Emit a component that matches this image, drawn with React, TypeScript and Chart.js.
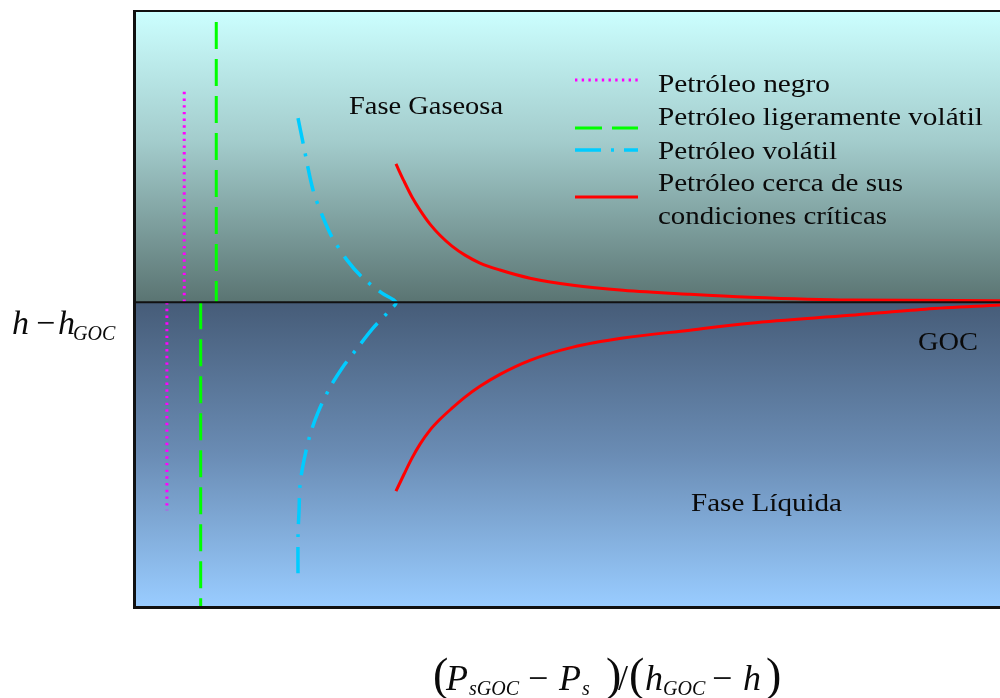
import React, { useEffect, useRef } from "react";
import { Chart, registerables } from "chart.js";

Chart.register(...registerables);

// Horizontal: (P_sGOC - P_s)/(h_GOC - h), 0..100 ; vertical: h - h_GOC, GOC at 0
const xMin = 0;
const xMax = 100;
const yMin = -104;
const yMax = 100;

const gocX = [0, 100];
const gocY = [0, 0];

const negroGasX = [5.8, 5.8];
const negroGasY = [72, 0];
const negroLiqX = [3.8, 3.8];
const negroLiqY = [0, -71.2];

const ligeroGasX = [9.5, 9.5];
const ligeroGasY = [95.9, 0];
const ligeroLiqX = [7.7, 7.7];
const ligeroLiqY = [0, -104];

const volatilX = [18.94, 19.52, 20.67, 21.82, 22.86, 24.6, 26.33, 28.64, 30.25, 29.56, 27.6, 25.87, 24.02, 22.52, 21.25, 20.32, 19.52, 19.17, 19.05, 18.94, 18.94];
const volatilY = [63.0, 54.5, 38.4, 29.1, 22.3, 14.4, 8.6, 3.1, 0, -2.7, -8.9, -15.4, -22.6, -29.8, -37.7, -45.5, -55.8, -62.7, -71.9, -79.8, -96.2];

const criticoGasX = [30.25, 31.18, 32.1, 33.03, 34.18, 35.33, 36.72, 38.22, 39.95, 42.26, 45.73, 50.69, 56.47, 64.2, 71.13, 82.68, 100];
const criticoGasY = [47.3, 41.4, 36.0, 31.5, 26.7, 22.9, 19.2, 16.1, 13.4, 11.0, 8.2, 5.8, 4.1, 2.7, 1.7, 0.7, 0.5];
const criticoLiqX = [30.25, 31.18, 32.1, 33.03, 34.18, 35.33, 36.72, 38.22, 39.95, 42.26, 45.73, 50.69, 56.47, 64.2, 71.13, 82.68, 91.34, 100];
const criticoLiqY = [-64.7, -58.9, -53.4, -48.6, -43.8, -40.1, -36.3, -32.5, -28.8, -24.7, -19.9, -15.4, -12.3, -9.6, -7.2, -4.5, -2.4, -1.0];

const legendLabels: string[][] = [
  ["Petróleo negro"],
  ["Petróleo ligeramente volátil"],
  ["Petróleo volátil"],
  ["Petróleo cerca de sus", "condiciones críticas"],
];

const regionLabels = ["Fase Gaseosa", "Fase Líquida", "GOC"];

const zip = (xs: number[], ys: number[]) => xs.map((x, i) => ({ x, y: ys[i] }));

const MAGENTA = "#ff00ff";
const GREEN = "#00ff00";
const CYAN = "#00ccff";
const RED = "#ff0000";

const styles = [
  { color: MAGENTA, width: 3, dash: [2.4, 4.3] },
  { color: GREEN, width: 3, dash: [27, 10] },
  { color: CYAN, width: 3.5, dash: [26, 10, 3, 10] },
  { color: RED, width: 3, dash: [] as number[] },
];

const SERIF = "'Liberation Serif', 'Times New Roman', serif";

function txt(ctx: CanvasRenderingContext2D, s: string, x: number, y: number, font: string, w?: number) {
  ctx.font = font;
  if (w) {
    const m = ctx.measureText(s).width;
    ctx.save();
    ctx.translate(x, y);
    ctx.scale(w / m, 1);
    ctx.fillText(s, 0, 0);
    ctx.restore();
  } else {
    ctx.fillText(s, x, y);
  }
}

const bgPlugin = {
  id: "bgPlugin",
  beforeDatasetsDraw(chart: any) {
    const { ctx, chartArea, scales } = chart;
    const { left, top, right, bottom } = chartArea;
    const y0 = scales.y.getPixelForValue(0);
    ctx.save();
    const g1 = ctx.createLinearGradient(0, top, 0, y0);
    g1.addColorStop(0, "#ccffff");
    g1.addColorStop(0.45, "#a3cccc");
    g1.addColorStop(1, "#5a7472");
    ctx.fillStyle = g1;
    ctx.fillRect(left, top, right - left, y0 - top);
    const g2 = ctx.createLinearGradient(0, y0, 0, bottom);
    g2.addColorStop(0, "#465c78");
    g2.addColorStop(0.5, "#6a8cb4");
    g2.addColorStop(1, "#99ccff");
    ctx.fillStyle = g2;
    ctx.fillRect(left, y0, right - left, bottom - y0);
    ctx.restore();
  },
  afterDraw(chart: any) {
    const { ctx, chartArea } = chart;
    const { left, top, right, bottom } = chartArea;
    ctx.save();
    // frame (left, top, bottom)
    ctx.fillStyle = "#111111";
    ctx.fillRect(left - 1, top, 3, bottom - top + 3);
    ctx.fillRect(left - 1, top, right - left + 1, 2);
    ctx.fillRect(left - 1, bottom, right - left + 1, 3);

    // legend
    const sampleY = [80, 128, 150, 197];
    const sampleX0 = 575;
    const sampleX1 = 638;
    styles.forEach((s, i) => {
      ctx.beginPath();
      ctx.strokeStyle = s.color;
      ctx.lineWidth = s.width;
      ctx.setLineDash(s.dash);
      ctx.lineCap = "butt";
      ctx.moveTo(sampleX0, sampleY[i]);
      ctx.lineTo(sampleX1, sampleY[i]);
      ctx.stroke();
    });
    ctx.setLineDash([]);
    ctx.fillStyle = "#0a0a0a";
    ctx.textBaseline = "alphabetic";
    ctx.textAlign = "left";
    const legFont = `25px ${SERIF}`;
    const legBase = [[92], [125], [159], [191, 224]];
    const legW = [[172], [325], [179], [245, 229]];
    legendLabels.forEach((lines, i) => {
      lines.forEach((l, j) => txt(ctx, l, 658, legBase[i][j], legFont, legW[i][j]));
    });

    // region labels
    txt(ctx, regionLabels[0], 349, 114, legFont, 154);
    txt(ctx, regionLabels[1], 691, 511, legFont, 151);
    txt(ctx, regionLabels[2], 918, 350, legFont, 60);

    // y axis title: h − h_GOC
    const it = (n: number) => `italic ${n}px ${SERIF}`;
    const rg = (n: number) => `${n}px ${SERIF}`;
    txt(ctx, "h", 12, 334, it(34));
    txt(ctx, "−", 36, 334, rg(34));
    txt(ctx, "h", 58, 334, it(34));
    txt(ctx, "GOC", 73, 340, it(20));

    // x axis title: (P_sGOC − P_s)/(h_GOC − h)
    txt(ctx, "(", 433, 690, rg(46));
    txt(ctx, "P", 446, 690, it(36));
    txt(ctx, "sGOC", 469, 695, it(20));
    txt(ctx, "−", 528, 690, rg(36));
    txt(ctx, "P", 559, 690, it(36));
    txt(ctx, "s", 582, 695, it(20));
    txt(ctx, ")", 606, 690, rg(46));
    txt(ctx, "/", 618, 690, rg(36));
    txt(ctx, "(", 629, 690, rg(46));
    txt(ctx, "h", 645, 690, it(36));
    txt(ctx, "GOC", 663, 695, it(20));
    txt(ctx, "−", 712, 690, rg(36));
    txt(ctx, "h", 743, 690, it(36));
    txt(ctx, ")", 766, 690, rg(46));
    ctx.restore();
  },
};

function ds(label: string, xs: number[], ys: number[], st: { color: string; width: number; dash: number[] }, tension = 0, monotone = false) {
  return {
    label,
    data: zip(xs, ys),
    showLine: true,
    borderColor: st.color,
    backgroundColor: st.color,
    borderWidth: st.width,
    borderDash: st.dash,
    borderCapStyle: "butt" as const,
    pointRadius: 0,
    tension,
    cubicInterpolationMode: monotone ? "monotone" : "default",
    fill: false,
  };
}

export default function App() {
  const ref = useRef<HTMLCanvasElement>(null);
  useEffect(() => {
    if (!ref.current) return;
    const chart = new Chart(ref.current, {
      type: "scatter",
      data: {
        datasets: [
          ds("GOC", gocX, gocY, { color: "#111111", width: 2, dash: [] }),
          ds(legendLabels[0][0], negroGasX, negroGasY, styles[0]),
          ds(legendLabels[0][0], negroLiqX, negroLiqY, styles[0]),
          ds(legendLabels[1][0], ligeroGasX, ligeroGasY, styles[1]),
          ds(legendLabels[1][0], ligeroLiqX, ligeroLiqY, styles[1]),
          ds(legendLabels[2][0], volatilX, volatilY, styles[2], 0.3),
          ds(legendLabels[3].join(" "), criticoGasX, criticoGasY, styles[3], 0.4, true),
          ds(legendLabels[3].join(" "), criticoLiqX, criticoLiqY, styles[3], 0.4, true),
        ] as any,
      },
      options: {
        animation: false,
        responsive: true,
        maintainAspectRatio: false,
        layout: { padding: { left: 134, top: 10, right: 0, bottom: 92 } },
        plugins: { legend: { display: false }, tooltip: { enabled: false } },
        scales: {
          x: { type: "linear", min: xMin, max: xMax, display: false },
          y: { type: "linear", min: yMin, max: yMax, display: false },
        },
      },
      plugins: [bgPlugin],
    });
    return () => chart.destroy();
  }, []);
  return (
    <div style={{ position: "absolute", left: 0, top: 0, width: 1000, height: 698, background: "#ffffff" }}>
      <canvas ref={ref} />
    </div>
  );
}
